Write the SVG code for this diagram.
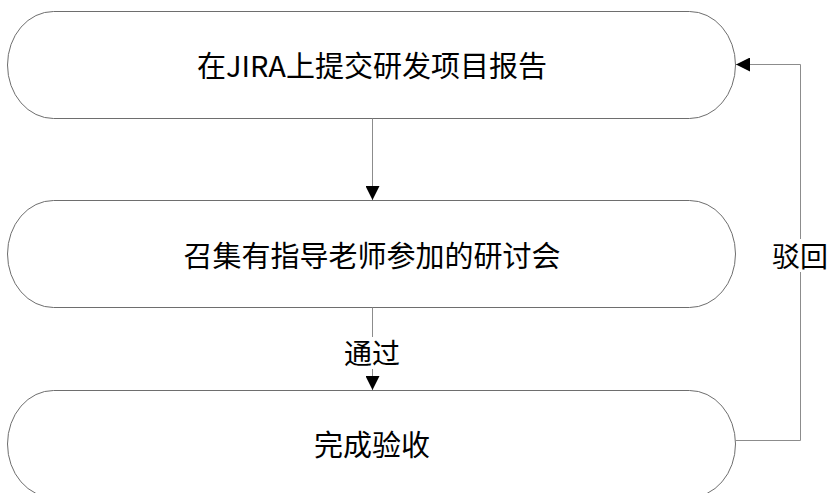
<svg xmlns="http://www.w3.org/2000/svg" width="833" height="493" viewBox="0 0 833 493">
<defs>
<style>
.node{fill:#fff;stroke:#6e6e6e;stroke-width:1}
.t{font-family:"Noto Sans CJK SC","Noto Sans",sans-serif;font-size:29px;fill:#000;text-anchor:middle;dominant-baseline:central}
.lbl{font-family:"Noto Sans CJK SC","Noto Sans",sans-serif;font-size:28px;fill:#000;text-anchor:middle;dominant-baseline:central}
.edge{fill:none;stroke:#8c8c8c;stroke-width:1}
</style>
<marker id="arr" viewBox="0 0 14 14" refX="14" refY="7" markerWidth="14" markerHeight="14" markerUnits="userSpaceOnUse" orient="auto">
<path d="M0,0 L14,7 L0,14 Z" fill="#000"/>
</marker>
</defs>
<rect width="833" height="493" fill="#fff"/>
<g id="n1"><rect class="node" x="7.5" y="11.5" width="728" height="107" rx="46" ry="53.5"/><text class="t" x="372" y="64">在JIRA上提交研发项目报告</text></g>
<g id="n2"><rect class="node" x="7.5" y="200.5" width="728" height="107" rx="46" ry="53.5"/><text class="t" x="372" y="254">召集有指导老师参加的研讨会</text></g>
<g id="n3"><rect class="node" x="7.5" y="390.5" width="728" height="107" rx="46" ry="53.5"/><text class="t" x="372" y="443">完成验收</text></g>
<g id="edges">
<path class="edge" d="M372.5,118.5 V200" marker-end="url(#arr)"/>
<path class="edge" d="M372.5,307.5 V390" marker-end="url(#arr)"/>
<path class="edge" d="M735.5,440.5 H800.5 V64.5 H736" marker-end="url(#arr)"/>
<rect x="338" y="337" width="68" height="32" fill="#fff"/>
<text class="lbl" x="372" y="352">通过</text>
<rect x="770" y="239" width="62" height="33" fill="#fff"/>
<text class="lbl" x="800" y="255">驳回</text>
</g>
</svg>
